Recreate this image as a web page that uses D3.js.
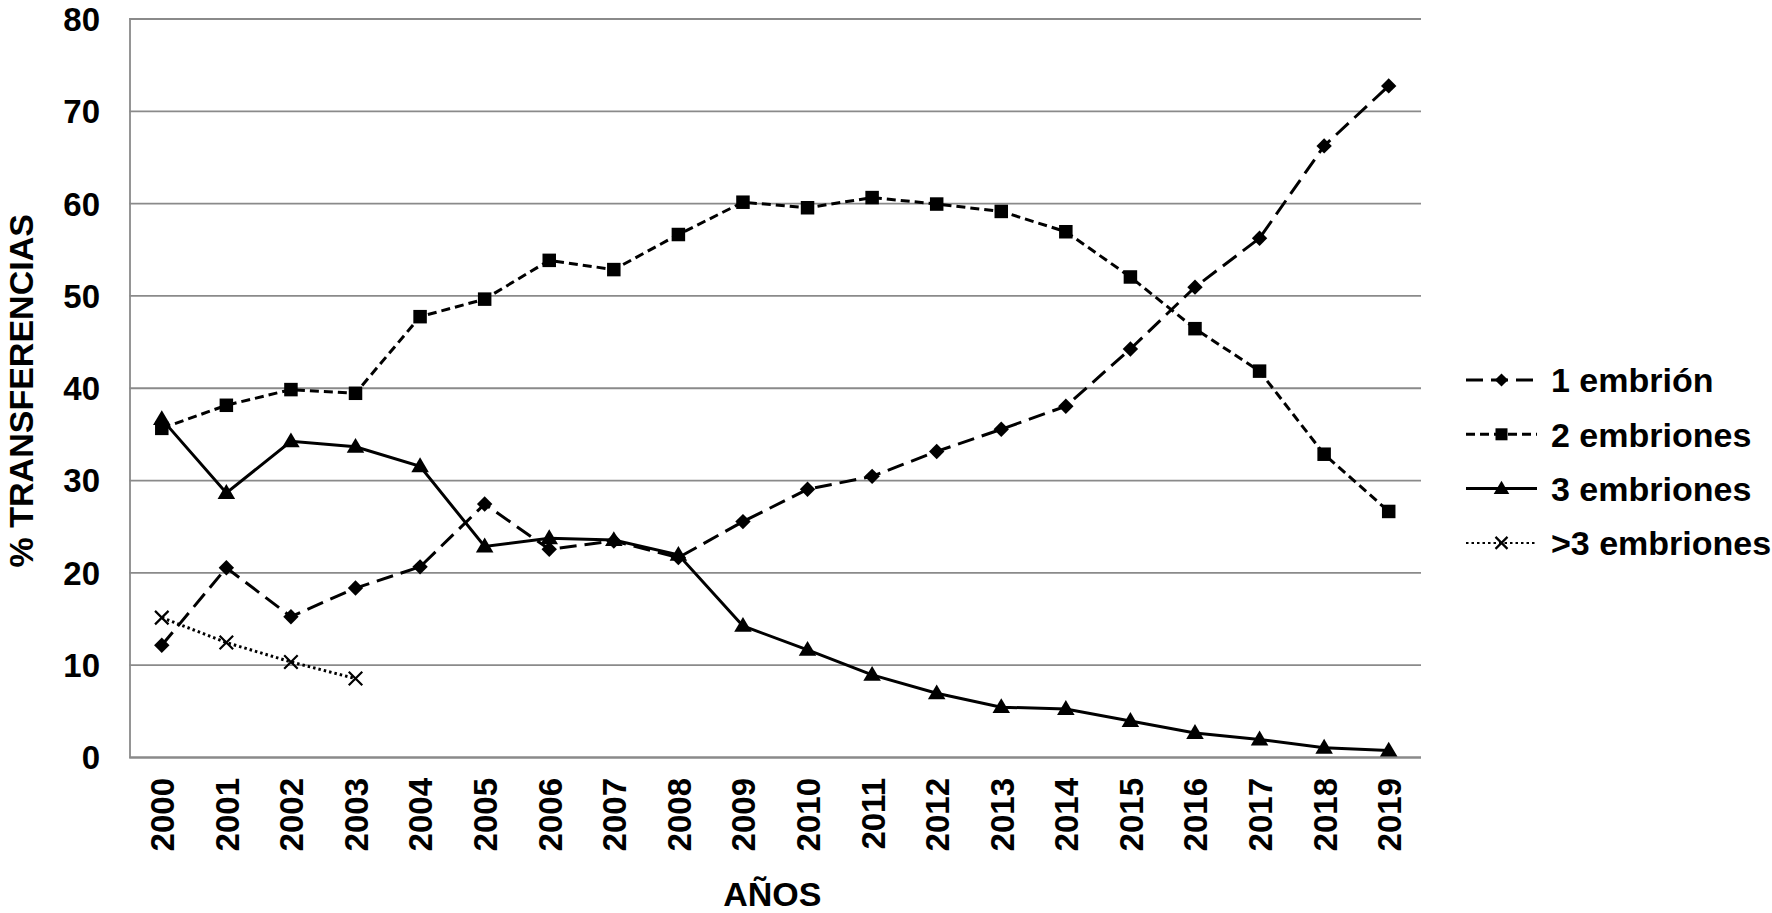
<!DOCTYPE html>
<html>
<head>
<meta charset="utf-8">
<script src="https://cdn.jsdelivr.net/npm/d3@7"></script>
<style>
  html, body { margin: 0; padding: 0; background: #fff; }
  svg { display: block; font-family: "Liberation Sans", Arial, Helvetica, sans-serif; font-weight: bold; }
</style>
</head>
<body>
<svg id="chart" width="1772" height="913"></svg>
<script>
// ---- Data ----
const years = ["2000","2001","2002","2003","2004","2005","2006","2007","2008","2009",
               "2010","2011","2012","2013","2014","2015","2016","2017","2018","2019"];
const oneEmbryo   = [12.1, 20.5, 15.2, 18.3, 20.6, 27.4, 22.5, 23.4, 21.6, 25.5,
                     29.0, 30.4, 33.1, 35.5, 38.0, 44.2, 50.9, 56.2, 66.2, 72.7];
const twoEmbryos  = [35.6, 38.1, 39.8, 39.4, 47.7, 49.6, 53.8, 52.8, 56.6, 60.1,
                     59.5, 60.6, 59.9, 59.1, 56.9, 52.0, 46.4, 41.8, 32.8, 26.6];
const threeEmbryos= [36.6, 28.6, 34.2, 33.6, 31.5, 22.8, 23.7, 23.5, 21.9, 14.2,
                     11.6, 8.9, 6.9, 5.4, 5.2, 3.9, 2.6, 1.9, 1.0, 0.7];
const moreEmbryos = [15.1, 12.4, 10.3, 8.5];
const yTicks = [0, 10, 20, 30, 40, 50, 60, 70, 80];
const seriesNames = ["1 embrión", "2 embriones", "3 embriones", ">3 embriones"];
const xTitle = "AÑOS";
const yTitle = "% TRANSFERENCIAS";

// ---- Layout ----
const svg = d3.select("#chart");
const pLeft = 129.5, pRight = 1421, pTop = 18.5, pBottom = 757;
const x = d3.scalePoint().domain(years).range([pLeft, pRight]).padding(0.5);
const y = d3.scaleLinear().domain([0, 80]).range([pBottom, pTop]);
const FS = 33, FSL = 34;

const styles = [
  { values: oneEmbryo,    dash: "17,8",  width: 3, marker: "diamond" },
  { values: twoEmbryos,   dash: "9,5",   width: 3, marker: "square" },
  { values: threeEmbryos, dash: null,    width: 3, marker: "triangle" },
  { values: moreEmbryos,  dash: "2.5,3", width: 3, marker: "cross" }
];

// gridlines
const yAxis = d3.axisLeft(y).tickValues(yTicks).tickSize(-(pRight - pLeft)).tickFormat(d => d);
const gy = svg.append("g").attr("transform", `translate(${pLeft},0)`).call(yAxis);
gy.select(".domain").attr("stroke", "#8a8a8a").attr("stroke-width", 1.8);
gy.selectAll(".tick line").attr("stroke", "#8a8a8a").attr("stroke-width", 1.8);
gy.selectAll(".tick text")
  .attr("x", -(pLeft - 100))
  .attr("dy", "0.36em")
  .attr("font-size", FS)
  .attr("font-weight", "bold")
  .attr("font-family", "Liberation Sans, Arial, sans-serif")
  .attr("fill", "#000");

// x axis labels
const xAxis = d3.axisBottom(x).tickSize(0);
const gx = svg.append("g").attr("transform", `translate(0,${pBottom})`).call(xAxis);
gx.select(".domain").remove();
gx.selectAll(".tick text")
  .attr("transform", "rotate(-90)")
  .attr("text-anchor", "end")
  .attr("x", -21)
  .attr("y", 0)
  .attr("dy", "0.36em")
  .attr("font-size", FS)
  .attr("font-weight", "bold")
  .attr("font-family", "Liberation Sans, Arial, sans-serif")
  .attr("fill", "#000");

// axis titles
svg.append("text")
  .attr("x", (pLeft + pRight) / 2 - 3)
  .attr("y", 906)
  .attr("text-anchor", "middle")
  .attr("font-size", FSL)
  .text(xTitle);
svg.append("text")
  .attr("transform", `translate(33,${(pTop + pBottom) / 2 + 3}) rotate(-90)`)
  .attr("text-anchor", "middle")
  .attr("font-size", FSL)
  .text(yTitle);

// marker drawing
function drawMarker(g, type, cx, cy, s) {
  if (type === "diamond") {
    g.append("path").attr("d", `M${cx},${cy - s * 0.55} L${cx + s * 0.55},${cy} L${cx},${cy + s * 0.55} L${cx - s * 0.55},${cy} Z`).attr("fill", "#000");
  } else if (type === "square") {
    g.append("rect").attr("x", cx - s / 2).attr("y", cy - s / 2).attr("width", s).attr("height", s).attr("fill", "#000");
  } else if (type === "triangle") {
    const w = s * 1.3, h = s * 1.1;
    g.append("path").attr("d", `M${cx},${cy - h * 0.6} L${cx + w / 2},${cy + h * 0.4} L${cx - w / 2},${cy + h * 0.4} Z`).attr("fill", "#000");
  } else if (type === "cross") {
    const r = s / 2;
    g.append("path").attr("d", `M${cx - r},${cy - r} L${cx + r},${cy + r} M${cx - r},${cy + r} L${cx + r},${cy - r}`)
      .attr("stroke", "#000").attr("stroke-width", 2.2).attr("fill", "none");
  }
}

// series
const line = d3.line().x((d, i) => x(years[i])).y(d => y(d));
styles.forEach(st => {
  const g = svg.append("g");
  g.append("path")
    .attr("d", line(st.values))
    .attr("fill", "none")
    .attr("stroke", "#000")
    .attr("stroke-width", st.width)
    .attr("stroke-dasharray", st.dash);
  st.values.forEach((v, i) => drawMarker(g, st.marker, x(years[i]), y(v), st.marker === "diamond" ? 14 : 13.5));
});

// legend
const legY0 = 380, legStep = 54.3;
seriesNames.forEach((name, i) => {
  const st = styles[i];
  const ly = legY0 + i * legStep;
  const g = svg.append("g");
  g.append("line").attr("x1", 1466).attr("x2", 1537).attr("y1", ly).attr("y2", ly)
    .attr("stroke", "#000").attr("stroke-width", st.marker === "cross" ? 2 : st.width)
    .attr("stroke-dasharray", st.dash);
  drawMarker(g, st.marker, 1501.5, ly, 12);
  g.append("text").attr("x", 1551).attr("y", ly).attr("dy", "0.36em")
    .attr("font-size", FSL).text(name);
});
</script>
</body>
</html>
